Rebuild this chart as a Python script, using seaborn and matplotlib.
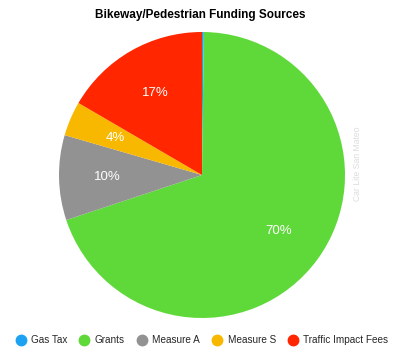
import matplotlib
matplotlib.use("Agg")
import matplotlib.pyplot as plt
import seaborn as sns
from matplotlib.lines import Line2D

categories = ["Gas Tax", "Grants", "Measure A", "Measure S", "Traffic Impact Fees"]
values = [0.2, 69.7, 9.6, 3.9, 16.6]
colors = ["#1DA1F2", "#5FD93A", "#929292", "#F8B800", "#FF2600"]
title = "Bikeway/Pedestrian Funding Sources"
watermark = "Car Lite San Mateo"

sns.set_theme(style="white")
plt.rcParams["font.family"] = ["Liberation Sans", "DejaVu Sans"]

fig = plt.figure(figsize=(4.0, 3.56), dpi=100)
cx, cy = 202 / 400, (356 - 175) / 356
rw, rh = 143 / 400, 143 / 356
ax = fig.add_axes([cx - rw, cy - rh, 2 * rw, 2 * rh])

def fmt(p):
    return f"{p:.0f}%" if p >= 1 else ""

wedges, texts, autotexts = ax.pie(
    values, colors=colors, startangle=90, counterclock=False,
    autopct=fmt, pctdistance=0.66, radius=1.0,
    wedgeprops=dict(linewidth=0),
    textprops=dict(color="white", fontsize=9.5),
)
ax.set_xlim(-1, 1)
ax.set_ylim(-1, 1)
ax.set_aspect("equal")
ax.axis("off")

fig.text(0.5, 1 - 15 / 356, title, ha="center", va="center",
         fontsize=8.5, fontweight="bold", color="black")
fig.text(357 / 400, 1 - 164 / 356, watermark, rotation=90,
         ha="center", va="center", fontsize=6.2, color="#DDDDDD")

handles = [Line2D([0], [0], marker="o", linestyle="", markersize=7.5,
                  markerfacecolor=c, markeredgecolor=c) for c in colors]
fig.legend(handles, categories, loc="center", bbox_to_anchor=(0.505, 1 - 340 / 356),
           ncol=5, frameon=False, fontsize=7.2, handletextpad=0.55,
           columnspacing=1.2, handlelength=1.0)

fig.savefig("out.png", dpi=100, facecolor="white")
